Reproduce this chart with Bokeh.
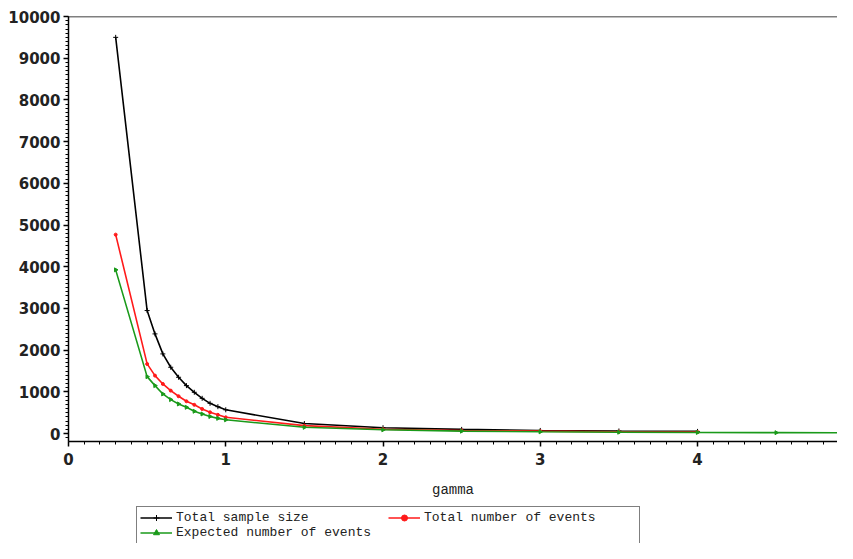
import math
from bokeh.plotting import figure
from bokeh.layouts import column
from bokeh.models import (Range1d, SingleIntervalTicker, Legend, LegendItem, Span)
from bokeh.embed import file_html
from bokeh.resources import INLINE

# ---- data ----
gamma_main = [0.3, 0.5, 0.55, 0.6, 0.65, 0.7, 0.75, 0.8, 0.85, 0.9, 0.95, 1.0,
              1.5, 2.0, 2.5, 3.0, 3.5, 4.0]
total_sample = [9500, 2950, 2390, 1910, 1590, 1350, 1150, 990, 845, 725, 645, 570,
                240, 140, 100, 75, 62, 52]
total_events = [4770, 1670, 1390, 1190, 1030, 895, 775, 690, 590, 510, 450, 390,
                190, 105, 75, 58, 45, 38]
gamma_expected = [0.3, 0.5, 0.55, 0.6, 0.65, 0.7, 0.75, 0.8, 0.85, 0.9, 0.95, 1.0,
                  1.5, 2.0, 2.5, 3.0, 3.5, 4.0, 4.5, 5.0]
expected_events = [3925, 1365, 1150, 950, 815, 710, 630, 535, 470, 410, 365, 330,
                   150, 90, 58, 42, 33, 27, 22, 18]

x_label = "gamma"
names = ["Total sample size", "Total number of events", "Expected number of events"]
y_top = 10000

TICK_FONT = "DejaVu Sans"
MONO = "Liberation Mono"
BLACK, RED, GREEN = "black", "#ff1a1a", "#1a9a1a"

p = figure(width=837, height=504, output_backend="svg", toolbar_location=None,
           x_range=Range1d(0, 4.89), y_range=Range1d(-190, y_top),
           min_border_left=68, min_border_right=0, min_border_top=16, min_border_bottom=63)
p.outline_line_color = None
p.grid.grid_line_color = None

# axes styling
xa = p.xaxis[0]
ya = p.yaxis[0]
xa.ticker = SingleIntervalTicker(interval=1, num_minor_ticks=10)
ya.ticker = SingleIntervalTicker(interval=1000, num_minor_ticks=10)
for ax in (xa, ya):
    ax.axis_line_color = "black"
    ax.axis_line_width = 1.5
    ax.major_tick_line_color = "black"
    ax.minor_tick_line_color = "black"
    ax.major_tick_line_width = 1.5
    ax.minor_tick_line_width = 1
    ax.major_tick_in = 0
    ax.minor_tick_in = 0
    ax.major_tick_out = 5
    ax.minor_tick_out = 3
    ax.major_label_text_font = TICK_FONT
    ax.major_label_text_font_size = "15px"
    ax.major_label_text_font_style = "bold"
    ax.major_label_text_color = "#222222"
xa.major_label_standoff = 6
ya.major_label_standoff = 3
xa.axis_label = x_label
xa.axis_label_text_font = MONO
xa.axis_label_text_font_size = "14px"
xa.axis_label_text_font_style = "normal"
xa.axis_label_text_color = "#222222"
xa.axis_label_standoff = 14

# top frame line
p.add_layout(Span(location=y_top, dimension="width", line_color="black", line_width=1.5))

# series
p.line(gamma_main, total_sample, line_color=BLACK, line_width=1.6)
p.scatter(gamma_main, total_sample, marker="cross", size=5, line_color=BLACK, line_width=1)
p.line(gamma_main, total_events, line_color=RED, line_width=1.6)
p.scatter(gamma_main, total_events, marker="circle", size=3, line_color=RED, fill_color=RED)
p.line(gamma_expected, expected_events, line_color=GREEN, line_width=1.6)
p.scatter(gamma_expected, expected_events, marker="triangle", size=4, angle=-math.pi / 2,
          line_color=GREEN, fill_color=GREEN)

# ---- legend strip below the plot (key-only renderers hold no drawable data) ----
nan = [float("nan")]
lg = figure(width=837, height=39, output_backend="svg", toolbar_location=None,
            x_range=Range1d(0, 1), y_range=Range1d(0, 1),
            min_border_left=0, min_border_right=0, min_border_top=0, min_border_bottom=0)
lg.axis.visible = False
lg.grid.grid_line_color = None
lg.outline_line_color = None
k1 = lg.line(nan, nan, line_color=BLACK, line_width=1.6)
s1 = lg.scatter(nan, nan, marker="cross", size=5, line_color=BLACK, line_width=1)
k2 = lg.line(nan, nan, line_color=RED, line_width=1.6)
s2 = lg.scatter(nan, nan, marker="circle", size=3, line_color=RED, fill_color=RED)
k3 = lg.line(nan, nan, line_color=GREEN, line_width=1.6)
s3 = lg.scatter(nan, nan, marker="triangle", size=4, angle=-math.pi / 2,
                line_color=GREEN, fill_color=GREEN)

legend = Legend(items=[
    LegendItem(label=names[0], renderers=[k1, s1]),
    LegendItem(label=names[2], renderers=[k3, s3]),
    LegendItem(label=names[1], renderers=[k2, s2]),
], nrows=2)
legend.location = (68, -1)
legend.label_text_font = MONO
legend.label_text_font_size = "13px"
legend.label_text_color = "#222222"
legend.label_height = 15
legend.label_width = 212
legend.glyph_height = 15
legend.glyph_width = 32
legend.label_standoff = 4
legend.spacing = 0
legend.padding = 3
legend.margin = 0
legend.border_line_color = "black"
legend.border_line_width = 1.5
legend.background_fill_alpha = 1
lg.add_layout(legend)

layout = column(p, lg, spacing=0)
open("out.html", "w").write(file_html(layout, INLINE))
